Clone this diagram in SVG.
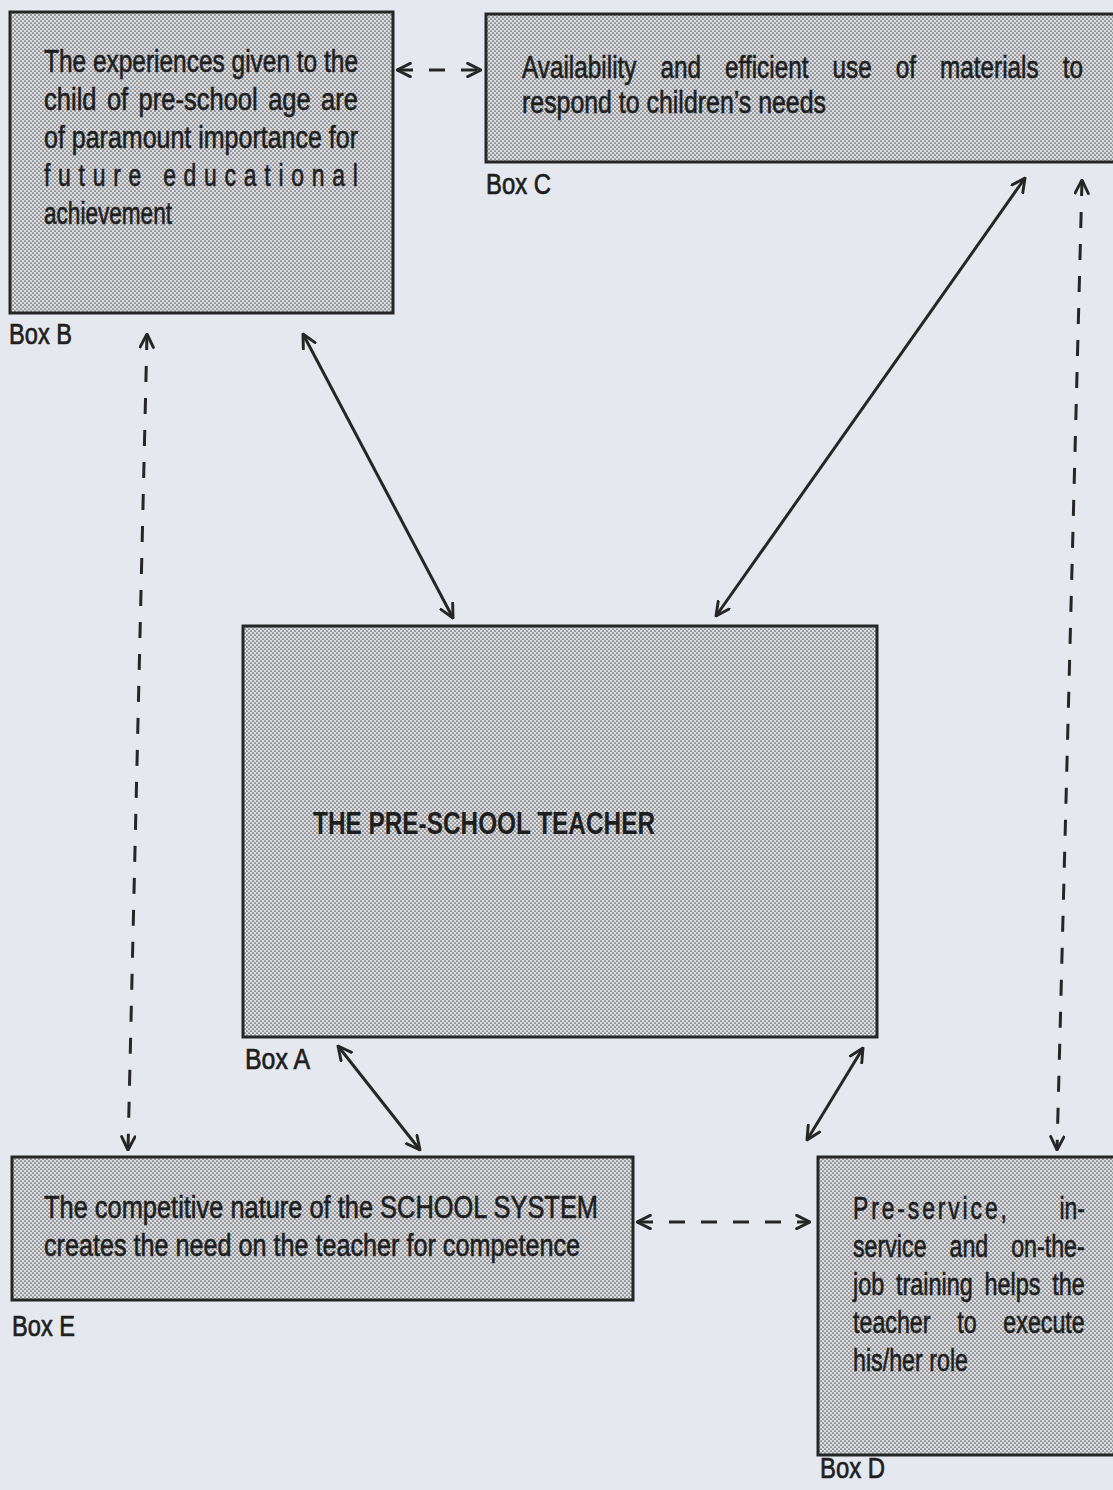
<svg xmlns="http://www.w3.org/2000/svg" width="1113" height="1490" viewBox="0 0 1113 1490">
<style>
.box{fill:url(#dots);stroke:#262626;stroke-width:3}
.fillonly{fill:url(#dots);stroke:none}
.edge{fill:none;stroke:#262626;stroke-width:3}
.t{font-family:"Liberation Sans Narrow","Liberation Sans",Arial,sans-serif;font-size:31px;fill:#1e1e1e;stroke:#1e1e1e;stroke-width:0.6}
.lbl{font-family:"Liberation Sans Narrow","Liberation Sans",Arial,sans-serif;font-size:29px;fill:#1e1e1e;stroke:#1e1e1e;stroke-width:0.7}
.title{font-family:"Liberation Sans Narrow","Liberation Sans",Arial,sans-serif;font-size:31px;font-weight:bold;fill:#1e1e1e}
.solid{stroke:#262626;stroke-width:3;fill:none;marker-start:url(#ah);marker-end:url(#ah)}
.dash{stroke:#262626;stroke-width:3;fill:none;stroke-dasharray:16 16;marker-start:url(#ah);marker-end:url(#ah)}
</style>
<defs>
<pattern id="dots" width="4" height="4" patternUnits="userSpaceOnUse">
<rect width="4" height="4" fill="#dadce0"/>
<circle cx="1" cy="1" r="0.85" fill="#5a5c60"/>
<circle cx="3" cy="3" r="0.85" fill="#5a5c60"/>
</pattern>
<marker id="ah" viewBox="0 0 12 12" refX="11" refY="6" markerWidth="16" markerHeight="16" markerUnits="userSpaceOnUse" orient="auto-start-reverse">
<path d="M1,1 L11,6 L1,11" fill="none" stroke="#262626" stroke-width="2.2" stroke-linecap="round" stroke-linejoin="round"/>
</marker>
</defs>
<rect width="1113" height="1490" fill="#e5e9ef"/>

<g id="connectors">
<line class="dash" x1="397" y1="70" x2="481" y2="70"/>
<line class="dash" x1="147" y1="334" x2="128" y2="1150"/>
<line class="dash" x1="1082" y1="180" x2="1057" y2="1150"/>
<line class="dash" x1="637" y1="1222" x2="810" y2="1222"/>
<line class="solid" x1="303" y1="334" x2="453" y2="618"/>
<line class="solid" x1="1025" y1="178" x2="716" y2="616"/>
<line class="solid" x1="338" y1="1046" x2="420" y2="1150"/>
<line class="solid" x1="863" y1="1048" x2="807" y2="1140"/>
</g>

<g id="boxB">
<rect class="box" x="10" y="12" width="383" height="301"/>
<text class="t" x="44" y="72" textLength="314" lengthAdjust="spacingAndGlyphs">The experiences given to the</text>
<text class="t" x="44" y="110" textLength="314" lengthAdjust="spacingAndGlyphs" word-spacing="4">child of pre-school age are</text>
<text class="t" x="44" y="148" textLength="314" lengthAdjust="spacingAndGlyphs">of paramount importance for</text>
<g transform="translate(44,186) scale(0.74,1)"><text class="t" x="0" y="0" textLength="424" lengthAdjust="spacing">future educational</text></g>
<text class="t" x="44" y="224" textLength="128" lengthAdjust="spacingAndGlyphs">achievement</text>
<text class="lbl" x="9" y="344" textLength="63" lengthAdjust="spacingAndGlyphs">Box B</text>
</g>

<g id="boxC">
<rect class="fillonly" x="486" y="14" width="627" height="148"/>
<path class="edge" d="M1113,14 H486 V162 H1113"/>
<g transform="translate(522,78) scale(0.75,1)"><text class="t" x="0" y="0" textLength="748" lengthAdjust="spacingAndGlyphs" word-spacing="22">Availability and efficient use of materials to</text></g>
<text class="t" x="522" y="113" textLength="304" lengthAdjust="spacingAndGlyphs">respond to children’s needs</text>
<text class="lbl" x="486" y="194" textLength="65" lengthAdjust="spacingAndGlyphs">Box C</text>
</g>

<g id="boxA">
<rect class="box" x="243" y="626" width="634" height="411"/>
<text class="title" x="313" y="834" textLength="342" lengthAdjust="spacingAndGlyphs">THE PRE-SCHOOL TEACHER</text>
<text class="lbl" x="245" y="1069" textLength="65" lengthAdjust="spacingAndGlyphs">Box A</text>
</g>

<g id="boxE">
<rect class="box" x="12" y="1157" width="621" height="143"/>
<text class="t" x="44" y="1218" textLength="554" lengthAdjust="spacingAndGlyphs">The competitive nature of the SCHOOL SYSTEM</text>
<text class="t" x="44" y="1256" textLength="536" lengthAdjust="spacingAndGlyphs">creates the need on the teacher for competence</text>
<text class="lbl" x="12" y="1336" textLength="63" lengthAdjust="spacingAndGlyphs">Box E</text>
</g>

<g id="boxD">
<rect class="fillonly" x="818" y="1157" width="295" height="298"/>
<path class="edge" d="M1113,1157 H818 V1455 H1113"/>
<g transform="translate(853,1219) scale(0.74,1)"><text class="t" x="0" y="0" textLength="208" lengthAdjust="spacing">Pre-service,</text></g>
<g transform="translate(1085,1219) scale(0.74,1)"><text class="t" x="0" y="0" text-anchor="end">in-</text></g>
<g transform="translate(853,1257) scale(0.75,1)"><text class="t" x="0" y="0" textLength="309" lengthAdjust="spacingAndGlyphs" word-spacing="22">service and on-the-</text></g>
<g transform="translate(853,1295) scale(0.75,1)"><text class="t" x="0" y="0" textLength="309" lengthAdjust="spacingAndGlyphs" word-spacing="7">job training helps the</text></g>
<g transform="translate(853,1333) scale(0.75,1)"><text class="t" x="0" y="0" textLength="309" lengthAdjust="spacingAndGlyphs" word-spacing="27">teacher to execute</text></g>
<text class="t" x="853" y="1371" textLength="115" lengthAdjust="spacingAndGlyphs">his/her role</text>
<text class="lbl" x="820" y="1478" textLength="65" lengthAdjust="spacingAndGlyphs">Box D</text>
</g>
</svg>
